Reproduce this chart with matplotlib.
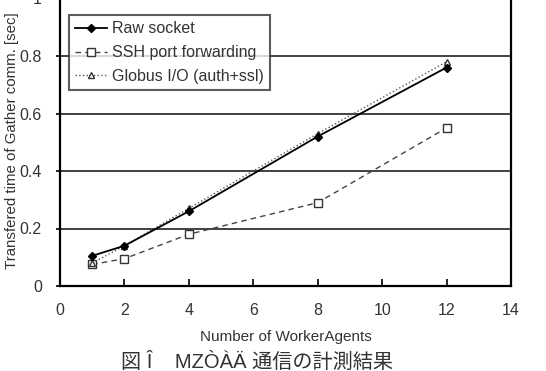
import matplotlib
matplotlib.use("Agg")
import matplotlib.pyplot as plt

plt.rcParams['font.family'] = ['Liberation Sans', 'Noto Sans CJK JP', 'DejaVu Sans']

x_vals = [1, 2, 4, 8, 12]
raw_socket = [0.105, 0.14, 0.26, 0.52, 0.76]
ssh_forward = [0.075, 0.095, 0.18, 0.29, 0.55]
globus_io = [0.08, 0.14, 0.27, 0.53, 0.78]
labels = ["Raw socket", "SSH port forwarding", "Globus I/O (auth+ssl)"]
x_ticks = [0, 2, 4, 6, 8, 10, 12, 14]
y_ticks = [0, 0.2, 0.4, 0.6, 0.8, 1.0]
y_tick_labels = ["0", "0.2", "0.4", "0.6", "0.8", "1"]

W, H = 546, 371
fig = plt.figure(figsize=(W / 100, H / 100), dpi=100)
left, right, bottom, top = 60, 511, 286, -1.5
ax = fig.add_axes([left / W, 1 - bottom / H, (right - left) / W, (bottom - top) / H])

for y in y_ticks[1:-1]:
    ax.axhline(y, color='#333333', lw=1.3, zorder=1)

ax.plot(x_vals, raw_socket, '-', color='black', lw=1.3, marker='D', ms=4,
        mfc='black', mec='black', label=labels[0], zorder=4)
ax.plot(x_vals, ssh_forward, '--', color='#444444', lw=1.0, dashes=(4, 3), marker='s', ms=6,
        mfc='white', mec='#333333', mew=1.0, label=labels[1], zorder=3)
ax.plot(x_vals, globus_io, ':', color='#555555', lw=1.0, marker='^', ms=5,
        mfc='white', mec='#333333', mew=1.0, label=labels[2], zorder=3)

ax.set_xlim(0, 14)
ax.set_ylim(0, 1.0)
ax.set_xticks(x_ticks)
ax.set_yticks(y_ticks)
ax.set_yticklabels(y_tick_labels)
ax.tick_params(axis='x', direction='in', length=5, width=1.2, labelsize=11.5, pad=12, colors='black', labelcolor='#333333')
ax.tick_params(axis='y', direction='out', length=3, width=1.2, labelsize=11.5, pad=10, labelcolor='#333333')
for s in ax.spines.values():
    s.set_linewidth(1.6)
    s.set_color('black')

ax.set_xlabel("Number of WorkerAgents", fontsize=11, color='#333333', labelpad=9)
ax.set_ylabel("Transfered time of Gather comm. [sec]", fontsize=10.8, color='#333333')
ax.yaxis.set_label_coords((19 - left) / (right - left), (bottom - 141) / (bottom - top))

leg = ax.legend(loc='upper left', bbox_to_anchor=((69 - left) / (right - left), (bottom - 15) / (bottom - top)),
                frameon=True, fancybox=False, fontsize=11.5, handlelength=2.0, handletextpad=0.3,
                borderpad=0.4, labelspacing=0.55, borderaxespad=0)
leg.get_frame().set_edgecolor('#333333')
leg.get_frame().set_linewidth(1.5)
for t in leg.get_texts():
    t.set_color('#333333')

fig.text(257 / W, 1 - 362 / H, "図 Î    MZÒÀÄ 通信の計測結果", fontsize=14.5, ha='center', va='center',
         color='#333333')

fig.savefig("out.png", dpi=100)
